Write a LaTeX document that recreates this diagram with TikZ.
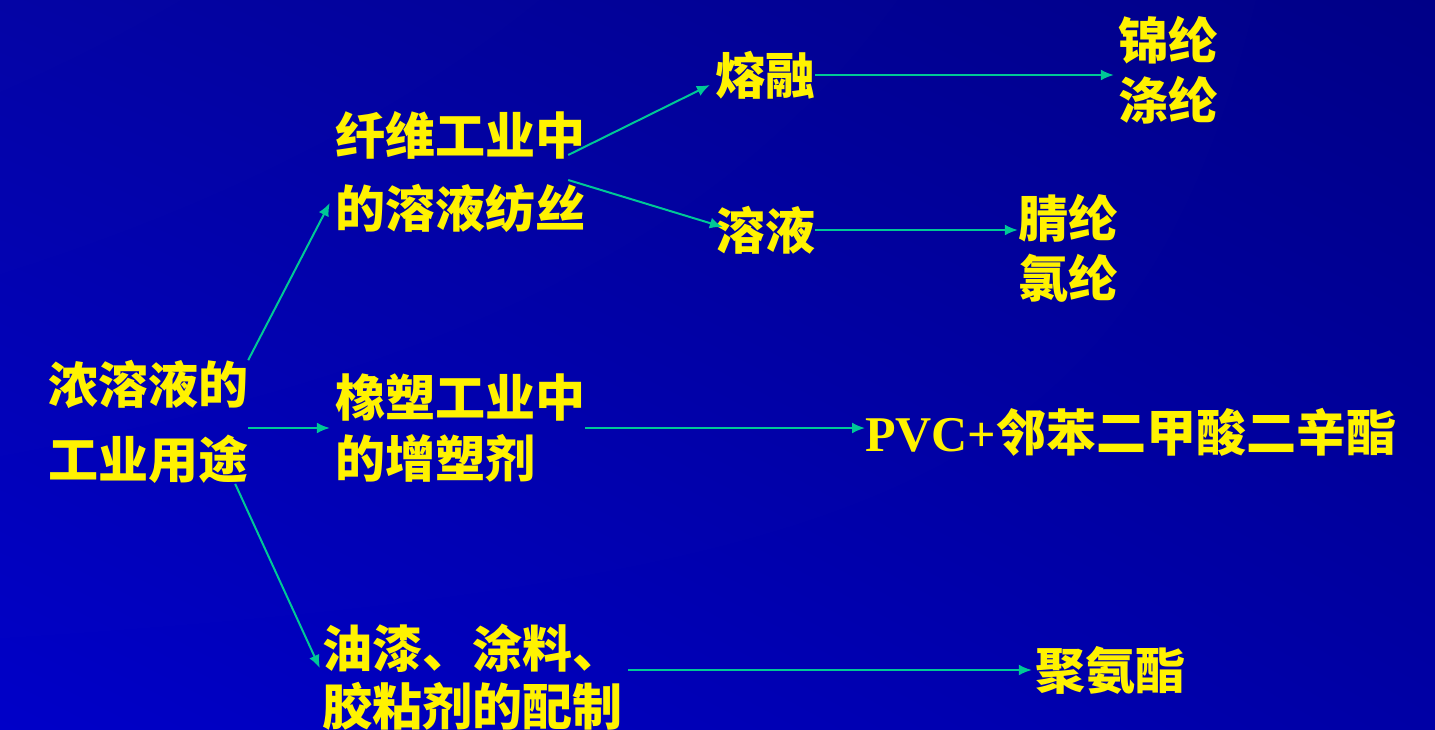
\documentclass[tikz,border=0pt]{standalone}
\usepackage{fontspec}
\setmainfont{Noto Sans CJK SC}[BoldFont={Noto Sans CJK SC Black}]
\newfontfamily\pvcfont{Liberation Serif}
\usetikzlibrary{arrows.meta,shadings}
\definecolor{linkgreen}{RGB}{0,200,150}
\definecolor{bgll}{RGB}{0,0,200}
\definecolor{bgul}{RGB}{4,4,165}
\definecolor{bglr}{RGB}{0,0,165}
\definecolor{bgur}{RGB}{0,0,135}
\begin{document}
\begin{tikzpicture}[x=1pt,y=-1pt,
    word/.style={text=yellow, font=\fontsize{50}{#1}\selectfont\bfseries, inner sep=0pt, align=left},
    word/.default=60,
    link/.style={draw=linkgreen, line width=2pt, -{Latex[length=13pt,width=11pt]}}]
    \shade[lower left=bgll, upper left=bgul, lower right=bglr, upper right=bgur] (0,0) rectangle (1435,729);
    \useasboundingbox (0,0) rectangle (1435,729);
    % words
    \node[word=75] (src) at (148,422) {浓溶液的\\工业用途};
    \node[word=73] (fib) at (460,172) {纤维工业中\\的溶液纺丝};
    \node[word] (melt) at (765,75) {熔融};
    \node[word] (sol) at (765,230) {溶液};
    \node[word] (jin) at (1168,70) {锦纶\\涤纶};
    \node[word] (jing) at (1068,248) {腈纶\\氯纶};
    \node[word=61] (rub) at (460,428) {橡塑工业中\\的增塑剂};
    \node[word, anchor=west] (pvc) at (865,432) {{\pvcfont\bfseries PVC+}邻苯二甲酸二辛酯};
    \node[word=58] (paint) at (472,677) {油漆、涂料、\\胶粘剂的配制};
    \node[word] (pu) at (1110,670) {聚氨酯};
    % links
    \draw[link] (src.north east) -- ([xshift=-5pt,yshift=-31pt]fib.west);
    \draw[link] (src.east |- rub.west) -- ([xshift=-5pt]rub.west);
    \draw[link] ([xshift=-13pt]src.south east) -- ([xshift=-2pt,yshift=9pt]paint.west);
    \draw[link] ([xshift=-17pt,yshift=17pt]fib.east) -- ([xshift=-5pt,yshift=-10pt]melt.west);
    \draw[link] ([xshift=-17pt,yshift=-8pt]fib.east) -- ([xshift=8pt,yshift=3pt]sol.west);
    \draw[link] (melt.east) -- ([xshift=-4pt]melt.east -| jin.west);
    \draw[link] (sol.east) -- (sol.east -| jing.west);
    \draw[link] (rub.east) -- (rub.east -| pvc.west);
    \draw[link] ([xshift=6pt]paint.east |- pu.west) -- ([xshift=-3pt]pu.west);
\end{tikzpicture}
\end{document}
